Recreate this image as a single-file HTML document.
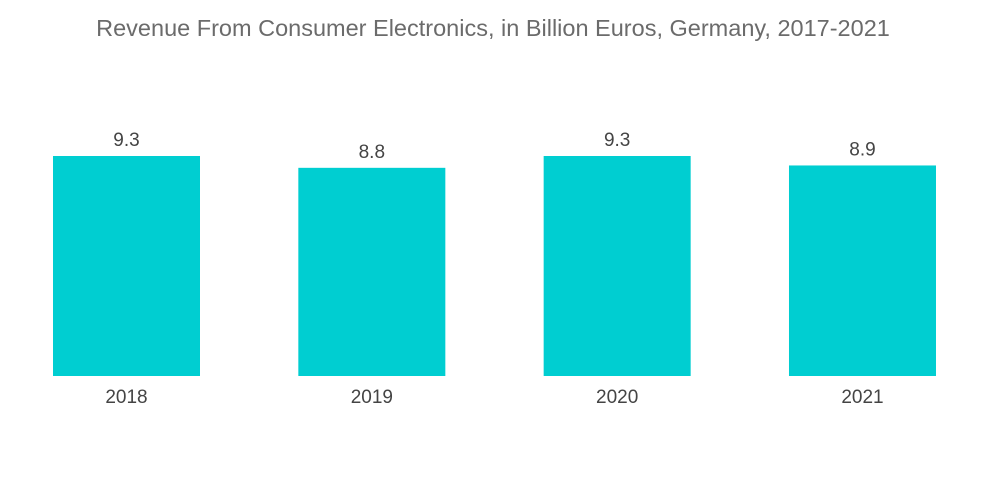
<!DOCTYPE html>
<html>
<head>
<meta charset="utf-8">
<style>
  html, body { margin: 0; padding: 0; background: #fff; }
  body { width: 1000px; height: 504px; overflow: hidden; font-family: "Liberation Sans", sans-serif; }
  #chart-title { position: absolute; left: 0; top: 15px; width: 986px; text-align: center; font-size: 23.5px; color: #6b6b6b; }
</style>
</head>
<body>
<div id="chart-title">Revenue From Consumer Electronics, in Billion Euros, Germany, 2017-2021</div>
<svg id="chart" width="1000" height="504" style="position:absolute;left:0;top:0"></svg>
<script>
const categories = ["2018", "2019", "2020", "2021"];
const values = [9.3, 8.8, 9.3, 8.9];
const valueLabels = ["9.3", "8.8", "9.3", "8.9"];

const svg = document.getElementById('chart');
const NS = 'http://www.w3.org/2000/svg';
const baseY = 376, pxPerUnit = 220 / 9.3;
const x0 = 53, step = 245.33, barW = 147;
function xScale(i) { return x0 + i * step; }
function yScale(v) { return baseY - v * pxPerUnit; }

categories.forEach((c, i) => {
  const x = xScale(i), y = yScale(values[i]);
  const r = document.createElementNS(NS, 'rect');
  r.setAttribute('x', x); r.setAttribute('y', y);
  r.setAttribute('width', barW); r.setAttribute('height', baseY - y);
  r.setAttribute('fill', '#00ced1');
  
  
  svg.appendChild(r);

  const t = document.createElementNS(NS, 'text');
  t.setAttribute('x', x + barW / 2); t.setAttribute('y', y - 10);
  t.setAttribute('text-anchor', 'middle');
  t.setAttribute('font-size', '19'); t.setAttribute('fill', '#444');
  t.setAttribute('font-family', 'Liberation Sans, sans-serif');
  t.textContent = valueLabels[i];
  
  
  svg.appendChild(t);

  const l = document.createElementNS(NS, 'text');
  l.setAttribute('x', x + barW / 2); l.setAttribute('y', 403);
  l.setAttribute('text-anchor', 'middle');
  l.setAttribute('font-size', '19'); l.setAttribute('fill', '#444');
  l.setAttribute('font-family', 'Liberation Sans, sans-serif');
  l.textContent = c;
  
  
  svg.appendChild(l);
});
</script>
</body>
</html>
